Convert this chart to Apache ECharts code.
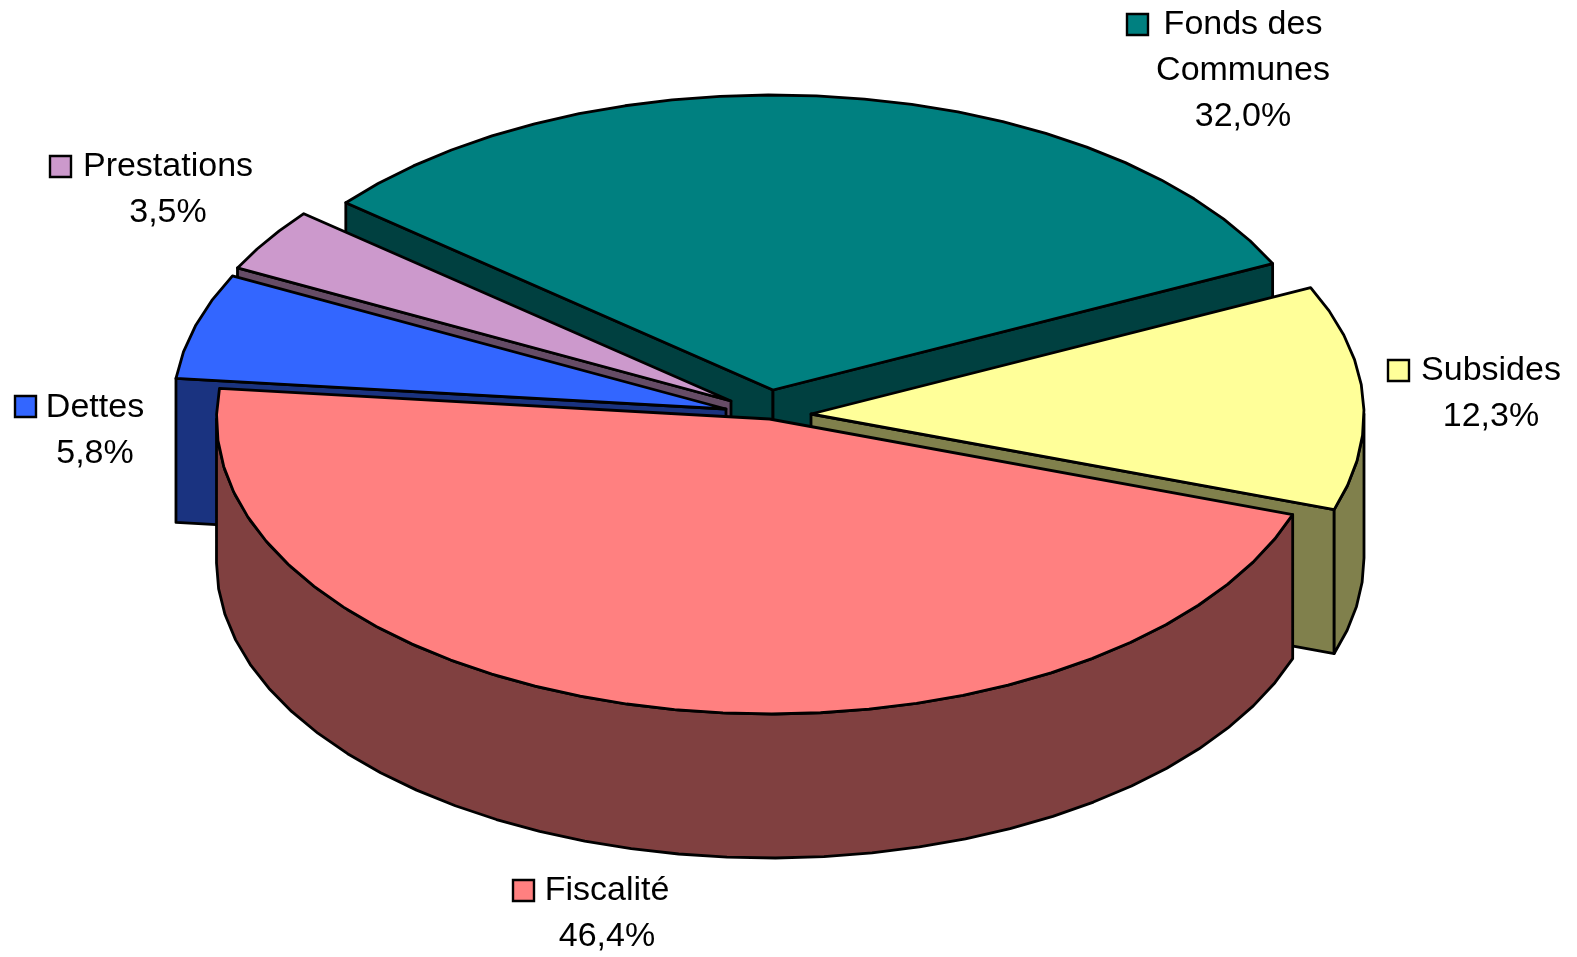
<!DOCTYPE html>
<html>
<head>
<meta charset="utf-8">
<style>html,body{margin:0;padding:0;background:#fff}#chart{width:1577px;height:957px}</style>
<script src="https://cdn.jsdelivr.net/npm/echarts@6/dist/echarts.min.js"></script>
</head>
<body>
<div id="chart"></div>
<script>
// Data, in the pie's clockwise order
var categories = ['Fiscalité', 'Dettes', 'Prestations', 'Fonds des\nCommunes', 'Subsides'];
var shares = [46.4, 5.8, 3.5, 32.0, 12.3];

// Styles and layout
var topColors = ['#FF8080', '#3366FF', '#CC99CC', '#008080', '#FFFF99'];
var sideColors = ['#804040', '#1A3380', '#664C66', '#004040', '#80804C'];
var drawOrder = [3, 2, 1, 4, 0];
var startAngle = 18.9, radiusX = 553, radiusY = 295, depth = 144;
var explodedCenters = [[769.5, 419], [726, 409], [731, 401], [773, 390], [811, 414]];
var labelAnchors = [[607, 868], [95, 385], [168, 144], [1243, 2], [1491, 348]];
var keyBoxes = [[513, 880], [15, 396], [50, 156], [1127, 14], [1388, 360]];
var keySize = 21;
var stepDeg = 5;

var rad = Math.PI / 180;
var angleBounds = [];
(function () {
  var total = shares.reduce(function (a, b) { return a + b; }, 0), acc = startAngle;
  shares.forEach(function (v) {
    var next = acc + v / total * 360;
    angleBounds.push([acc, next]);
    acc = next;
  });
})();

function rimPoint(c, deg, dz) {
  return [c[0] + radiusX * Math.cos(deg * rad), c[1] + radiusY * Math.sin(deg * rad) + (dz || 0)];
}
function arcPoints(c, a0, a1, dz) {
  var pts = [], n = Math.max(1, Math.round((a1 - a0) / stepDeg));
  for (var i = 0; i <= n; i++) pts.push(rimPoint(c, a0 + (a1 - a0) * i / n, dz));
  return pts;
}
function poly(points, fill) {
  return {
    type: 'polygon',
    shape: { points: points },
    style: { fill: fill, stroke: '#000', lineWidth: 2.8, lineJoin: 'round' }
  };
}
function wall(c, deg, fill) {
  var e = rimPoint(c, deg);
  return poly([[c[0], c[1]], e, [e[0], e[1] + depth], [c[0], c[1] + depth]], fill);
}
function renderSlice(params, api) {
  var idx = api.value(0);
  var c = explodedCenters[idx];
  var a0 = angleBounds[idx][0], a1 = angleBounds[idx][1];
  var top = topColors[idx], side = sideColors[idx];
  var kids = [];
  if (Math.cos(a0 * rad) < 0) kids.push(wall(c, a0, side));
  if (Math.cos(a1 * rad) > 0) kids.push(wall(c, a1, side));
  // front-facing part of the outer rim (screen angles 0-180, also +360)
  [0, 360].forEach(function (base) {
    var s = Math.max(a0, base), e = Math.min(a1, base + 180);
    if (e > s) {
      var upper = arcPoints(c, s, e, 0);
      var lower = arcPoints(c, s, e, depth).reverse();
      kids.push(poly(upper.concat(lower), side));
    }
  });
  kids.push(poly([[c[0], c[1]]].concat(arcPoints(c, a0, a1, 0)), top));
  return { type: 'group', children: kids };
}
function renderLabel(params, api) {
  var idx = api.value(0), a = labelAnchors[idx], k = keyBoxes[idx];
  var text = categories[idx] + '\n' + api.value(1).toFixed(1).replace('.', ',') + '%';
  return {
    type: 'group',
    children: [
      { type: 'rect', shape: { x: k[0], y: k[1], width: keySize, height: keySize },
        style: { fill: topColors[idx], stroke: '#000', lineWidth: 2.4 } },
      { type: 'text', x: a[0], y: a[1],
        style: { text: text, fill: '#000', font: '34px "Liberation Sans", Arial, sans-serif',
                 align: 'center', verticalAlign: 'top', lineHeight: 46 } }
    ]
  };
}

var chart = echarts.init(document.getElementById('chart'), null, { width: 1577, height: 957 });
chart.setOption({
  backgroundColor: '#fff',
  animation: false,
  series: [
    { type: 'custom', coordinateSystem: 'none', silent: true, clip: false,
      data: drawOrder.map(function (i) { return [i, shares[i]]; }),
      renderItem: renderSlice },
    { type: 'custom', coordinateSystem: 'none', silent: true, clip: false, z: 5,
      data: shares.map(function (v, i) { return [i, v]; }),
      renderItem: renderLabel }
  ]
});
</script>
</body>
</html>
